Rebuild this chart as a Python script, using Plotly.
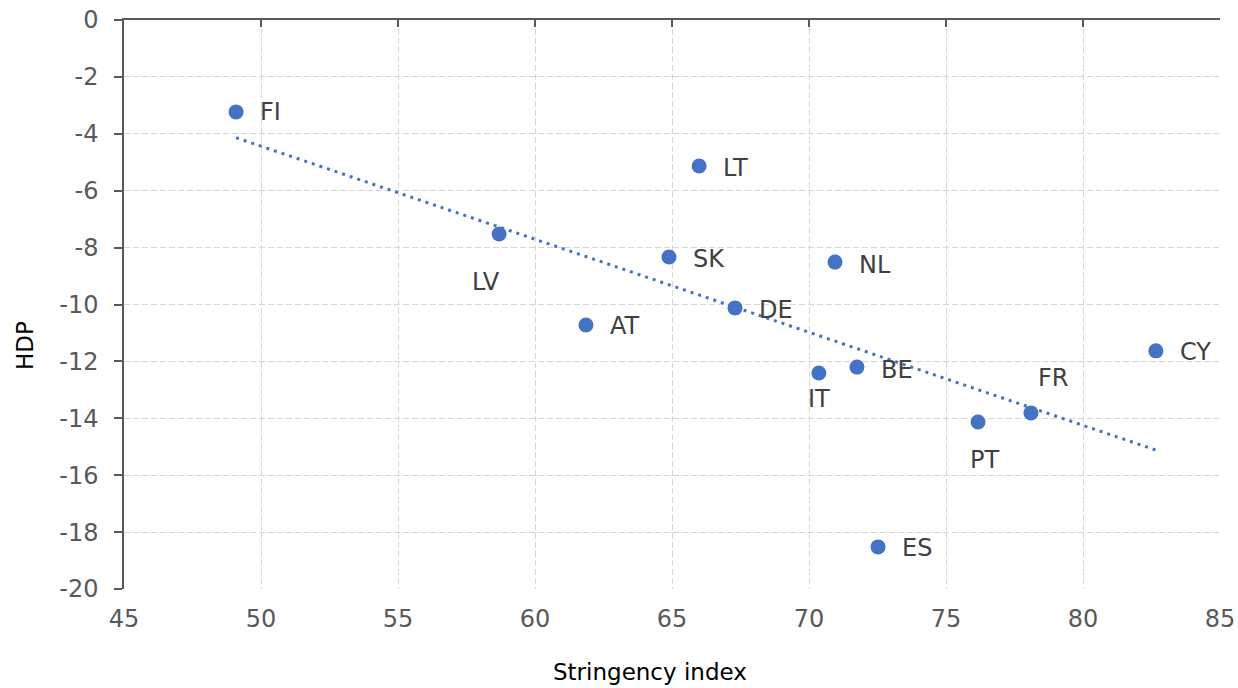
import numpy as np
import plotly.graph_objects as go

# stringency index vs HDP change by country
countries = ["FI", "LT", "LV", "SK", "NL", "DE", "AT", "IT", "BE", "CY", "FR", "PT", "ES"]
stringency = [49.09, 65.99, 58.69, 64.89, 70.95, 67.30, 61.86, 70.36, 71.75, 82.66, 78.10, 76.17, 72.52]
hdp = [-3.23, -5.13, -7.52, -8.33, -8.51, -10.12, -10.72, -12.41, -12.20, -11.63, -13.81, -14.13, -18.52]

x_ticks = [45, 50, 55, 60, 65, 70, 75, 80, 85]
y_ticks = [0, -2, -4, -6, -8, -10, -12, -14, -16, -18, -20]

# label placement (pixel offsets from marker centre)
label_offsets = {
    "FI": (22, 0, "left"), "LT": (22, -2, "left"), "LV": (-13, -48, "center"),
    "SK": (22, -2, "left"), "NL": (22, -3, "left"), "DE": (22, -2, "left"),
    "AT": (22, -1, "left"), "IT": (0, -26, "center"), "BE": (22, -3, "left"),
    "CY": (22, -1, "left"), "FR": (22, 35, "center"), "PT": (6, -38, "center"),
    "ES": (22, -1, "left"),
}

BLUE = "#4472C4"
FONT = "DejaVu Sans"
FS = 24
GRID = "#d6d6d6"

# linear trendline (least squares, as in the spreadsheet)
slope, intercept = np.polyfit(stringency, hdp, 1)
trend_x = [min(stringency), max(stringency)]
trend_y = [slope * v + intercept for v in trend_x]

fig = go.Figure()

fig.add_trace(go.Scatter(
    x=trend_x, y=trend_y, mode="lines",
    line=dict(color=BLUE, width=3, dash="3px,5px"),
    hoverinfo="skip", showlegend=False,
))

fig.add_trace(go.Scatter(
    x=stringency, y=hdp, mode="markers",
    marker=dict(color=BLUE, size=15),
    text=countries, hoverinfo="text", showlegend=False,
))

# helper trace so the top axis line with ticks is drawn
fig.add_trace(go.Scatter(x=[None], y=[None], xaxis="x2", yaxis="y",
                         showlegend=False, hoverinfo="skip"))

for c, xv, yv in zip(countries, stringency, hdp):
    dx, dy, anchor = label_offsets[c]
    fig.add_annotation(
        x=xv, y=yv, text=c, showarrow=False,
        xanchor=anchor, yanchor="middle",
        xshift=dx, yshift=dy,
        font=dict(family=FONT, size=FS, color="#404040"),
    )

fig.add_annotation(
    x=0.48, y=-0.145, xref="paper", yref="paper", text="Stringency index",
    showarrow=False, xanchor="center", yanchor="middle",
    font=dict(family=FONT, size=FS - 1, color="#000000"),
)
fig.add_annotation(
    x=-0.0903, y=0.427, xref="paper", yref="paper", text="HDP", textangle=-90,
    showarrow=False, xanchor="center", yanchor="middle",
    font=dict(family=FONT, size=FS - 1, color="#000000"),
)

fig.update_layout(
    width=1238, height=688,
    margin=dict(l=124, r=18, t=20, b=99, autoexpand=False),
    plot_bgcolor="white", paper_bgcolor="white",
    font=dict(family=FONT, size=FS, color="#595959"),
    xaxis=dict(
        range=[45, 85], tickvals=x_ticks, ticktext=[str(v) for v in x_ticks],
        showline=False, zeroline=False, automargin=False,
        showgrid=True, gridcolor=GRID, gridwidth=1.3, griddash="6px,3px",
        ticks="", ticklabelstandoff=13,
        tickfont=dict(family=FONT, size=FS, color="#595959"),
    ),
    xaxis2=dict(
        range=[45, 85], tickvals=x_ticks, overlaying="x", side="top", anchor="y",
        showline=True, linecolor="#595959", linewidth=1.5, automargin=False,
        ticks="inside", ticklen=7, tickcolor="#595959", tickwidth=1.5,
        showticklabels=False, showgrid=False, zeroline=False,
    ),
    yaxis=dict(
        range=[-20, 0], tickvals=y_ticks, ticktext=[str(v) for v in y_ticks],
        showline=True, linecolor="#595959", linewidth=1.5, automargin=False,
        ticks="outside", ticklen=8, tickcolor="#595959", tickwidth=1.5,
        showgrid=True, gridcolor=GRID, gridwidth=1.3, griddash="6px,3px",
        zeroline=False, ticklabelstandoff=11,
        tickfont=dict(family=FONT, size=FS, color="#595959"),
    ),
)

fig.write_html("out.html", config={"displayModeBar": False},
               post_script="document.body.style.margin='0px';")
